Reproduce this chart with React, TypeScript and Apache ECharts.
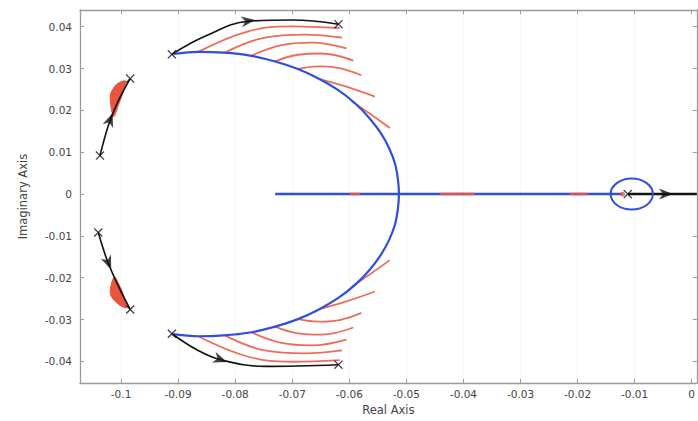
import React, { useEffect, useRef } from "react";
import * as echarts from "echarts";

// ---- axis ticks ----
const xTicks = [-0.1, -0.09, -0.08, -0.07, -0.06, -0.05, -0.04, -0.03, -0.02, -0.01, 0];
const yTicks = [-0.04, -0.03, -0.02, -0.01, 0, 0.01, 0.02, 0.03, 0.04];
const X_MIN = -0.1072;
const X_MAX = 0.0009;
const Y_MIN = -0.0452;
const Y_MAX = 0.044;

// ---- blue locus (large arc, top pole -> real axis -> bottom pole) ----
const blueArc = [
  [-0.0908, 0.0335], [-0.0865, 0.034], [-0.082, 0.0338], [-0.0774, 0.0331], [-0.073, 0.0317],
  [-0.069, 0.0299], [-0.0655, 0.0277], [-0.062, 0.0249], [-0.059, 0.0217], [-0.0565, 0.0182],
  [-0.0545, 0.0146], [-0.053, 0.0109], [-0.052, 0.0073], [-0.0515, 0.0037], [-0.0513, 0],
  [-0.0515, -0.0037], [-0.052, -0.0073], [-0.053, -0.0109], [-0.0545, -0.0146], [-0.0565, -0.0182],
  [-0.059, -0.0217], [-0.062, -0.0249], [-0.0655, -0.0277], [-0.069, -0.0299], [-0.073, -0.0317],
  [-0.0774, -0.0331], [-0.082, -0.0338], [-0.0865, -0.034], [-0.0908, -0.0335],
];
const blueReal = [[-0.073, 0], [-0.0122, 0]];
const blueSmallCircle = [[-0.0105, 0, 0.0037]]; // centre x, centre y, radius

// ---- red loci ----
const redUpper = [
  [[-0.0865, 0.034], [-0.0777, 0.0389], [-0.0701, 0.0401], [-0.0617, 0.0397]],
  [[-0.0818, 0.0338], [-0.0748, 0.0374], [-0.0678, 0.0381], [-0.0613, 0.0374]],
  [[-0.0771, 0.0331], [-0.0719, 0.0356], [-0.0666, 0.0362], [-0.0605, 0.0348]],
  [[-0.073, 0.0317], [-0.069, 0.0333], [-0.0649, 0.0336], [-0.0593, 0.0319]],
  [[-0.069, 0.0299], [-0.0654, 0.0305], [-0.0625, 0.0303], [-0.0579, 0.0284]],
  [[-0.0652, 0.0275], [-0.0608, 0.0258], [-0.0555, 0.0233]],
  [[-0.0596, 0.0222], [-0.0567, 0.0195], [-0.0529, 0.0158]],
];
const redLower = [
  [[-0.0865, -0.034], [-0.0777, -0.0389], [-0.0701, -0.0401], [-0.0617, -0.0397]],
  [[-0.0818, -0.0338], [-0.0748, -0.0374], [-0.0678, -0.0381], [-0.0613, -0.0374]],
  [[-0.0771, -0.0331], [-0.0719, -0.0356], [-0.0666, -0.0362], [-0.0605, -0.0348]],
  [[-0.073, -0.0317], [-0.069, -0.0333], [-0.0649, -0.0336], [-0.0593, -0.0319]],
  [[-0.069, -0.0299], [-0.0654, -0.0305], [-0.0625, -0.0303], [-0.0579, -0.0284]],
  [[-0.0652, -0.0275], [-0.0608, -0.0258], [-0.0555, -0.0233]],
  [[-0.0596, -0.0222], [-0.0567, -0.0195], [-0.0529, -0.0158]],
];
const redRealSegments = [
  [[-0.0599, 0], [-0.0581, 0]],
  [[-0.0441, 0], [-0.038, 0]],
  [[-0.0214, 0], [-0.0182, 0]],
];
const redWedgeUpper = [[-0.1013, 0.0185], [-0.1019, 0.0235], [-0.1008, 0.0262], [-0.0992, 0.027], [-0.0996, 0.0245], [-0.1004, 0.0215]];
const redWedgeLower = [[-0.1012, -0.0198], [-0.1019, -0.0238], [-0.1006, -0.0262], [-0.099, -0.0272], [-0.0995, -0.0245], [-0.1003, -0.0218]];
const redDot = [[-0.0121, 0]];

// ---- black loci ----
const blackUpper = [[-0.0911, 0.0334], [-0.0853, 0.0377], [-0.0777, 0.0413], [-0.07, 0.0416], [-0.0619, 0.0406]];
const blackLower = [[-0.0911, -0.0334], [-0.0865, -0.0374], [-0.0824, -0.0397], [-0.0748, -0.0412], [-0.0619, -0.0408]];
const blackLeftUpper = [[-0.1037, 0.0092], [-0.1022, 0.0165], [-0.1003, 0.0228], [-0.0984, 0.0276]];
const blackLeftLower = [[-0.104, -0.0092], [-0.1024, -0.016], [-0.1003, -0.0225], [-0.0984, -0.0276]];
const blackReal = [[-0.0112, 0], [0.0009, 0]];

const poles = [
  [-0.0911, 0.0334], [-0.0911, -0.0334], [-0.0619, 0.0406], [-0.0619, -0.0408],
  [-0.0984, 0.0276], [-0.0984, -0.0276], [-0.1037, 0.0092], [-0.104, -0.0092], [-0.0112, 0],
];
// x, y, direction (degrees)
const arrows = [
  [-0.0777, 0.0414, 8],
  [-0.0826, -0.0396, -20],
  [-0.1019, 0.0178, 70],
  [-0.1022, -0.0165, -68],
  [-0.0045, 0, 0],
];

const BLUE = "#2f4fdc";
const RED = "#e8553f";
const FONT = "DejaVu Sans, Verdana, sans-serif";
const CROSS = "path://M1,0 L5,4 L9,0 L10,1 L6,5 L10,9 L9,10 L5,6 L1,10 L0,9 L4,5 L0,1 Z";
const ARROW = "path://M0,0 L12,5 L0,10 L3.5,5 Z";

function lineSeries(data: number[][], color: string, width: number, smooth: number | boolean, z: number, opacity = 1) {
  return {
    type: "line",
    data,
    smooth,
    showSymbol: false,
    symbol: "none",
    silent: true,
    z,
    lineStyle: { color, width, opacity },
  };
}

function polygonSeries(points: number[][], color: string, z: number) {
  return {
    type: "custom",
    z,
    silent: true,
    data: [[points[0][0], points[0][1]]],
    encode: { x: 0, y: 1 },
    renderItem: (params: any, api: any) => ({
      type: "polygon",
      shape: { points: points.map((p) => api.coord(p)), smooth: 0.3 },
      style: { fill: color, stroke: color, lineWidth: 1 },
    }),
  };
}

export default function App() {
  const ref = useRef<HTMLDivElement>(null);
  useEffect(() => {
    if (!ref.current) return;
    const chart = echarts.init(ref.current, undefined, { renderer: "svg" });
    const axisColor = "#9a9a9a";
    const fmt = (v: number) => String(v);
    const series: any[] = [];

    series.push(lineSeries(blueArc, BLUE, 2.2, 0.35, 5));
    series.push(lineSeries(blueReal, BLUE, 2.4, false, 5));
    redUpper.forEach((a) => series.push(lineSeries(a, RED, 1.8, 0.4, 4, 0.85)));
    redLower.forEach((a) => series.push(lineSeries(a, RED, 1.8, 0.4, 4, 0.85)));
    redRealSegments.forEach((a) => series.push(lineSeries(a, RED, 2.6, false, 6, 0.9)));
    series.push(polygonSeries(redWedgeUpper, RED, 6));
    series.push(polygonSeries(redWedgeLower, RED, 6));
    series.push(lineSeries(blackUpper, "#111", 1.6, 0.4, 7));
    series.push(lineSeries(blackLower, "#111", 1.6, 0.4, 7));
    series.push(lineSeries(blackLeftUpper, "#111", 1.6, 0.3, 7));
    series.push(lineSeries(blackLeftLower, "#111", 1.6, 0.3, 7));
    series.push(lineSeries(blackReal, "#111", 2.6, false, 7));
    series.push({
      type: "custom",
      z: 8,
      silent: true,
      data: blueSmallCircle,
      encode: { x: 0, y: 1 },
      renderItem: (params: any, api: any) => {
        const c = api.coord([api.value(0), api.value(1)]);
        const s = api.size([api.value(2), api.value(2)]);
        return {
          type: "ellipse",
          shape: { cx: c[0], cy: c[1], rx: s[0], ry: s[1] },
          style: { fill: "none", stroke: BLUE, lineWidth: 2 },
        };
      },
    });
    series.push({
      type: "scatter",
      data: redDot,
      symbol: "circle",
      symbolSize: 5,
      z: 9,
      silent: true,
      itemStyle: { color: RED },
    });
    series.push({
      type: "scatter",
      data: poles,
      symbol: CROSS,
      symbolSize: 9,
      z: 10,
      silent: true,
      itemStyle: { color: "#111" },
    });
    series.push({
      type: "scatter",
      data: arrows.map((a) => ({ value: [a[0], a[1]], symbolRotate: a[2] })),
      symbol: ARROW,
      symbolSize: [14, 11],
      z: 10,
      silent: true,
      itemStyle: { color: "#111" },
    });

    const baseX = {
      type: "value",
      min: X_MIN,
      max: X_MAX,
      axisLine: { show: true, onZero: false, lineStyle: { color: axisColor, width: 1.3 } },
      axisTick: { show: true, inside: true, length: 4, customValues: xTicks, lineStyle: { color: axisColor } },
    };
    const baseY = {
      type: "value",
      min: Y_MIN,
      max: Y_MAX,
      axisLine: { show: true, onZero: false, lineStyle: { color: axisColor, width: 1.3 } },
      axisTick: { show: true, inside: true, length: 4, customValues: yTicks, lineStyle: { color: axisColor } },
    };
    const labelColor = "#444";

    chart.setOption({
      animation: false,
      backgroundColor: "#ffffff",
      grid: { left: 80, right: 1, top: 10, bottom: 31 },
      xAxis: [
        {
          ...baseX,
          position: "bottom",
          name: "Real Axis",
          nameLocation: "middle",
          nameGap: 16,
          nameTextStyle: { fontSize: 11.5, color: labelColor, fontFamily: FONT },
          axisLabel: { customValues: xTicks, formatter: fmt, fontSize: 10.5, color: labelColor, margin: 5, fontFamily: FONT },
          splitLine: { show: true, lineStyle: { color: "#ececec", width: 1, type: "dotted" } },
        },
        { ...baseX, position: "top", axisLabel: { show: false }, splitLine: { show: false } },
      ],
      yAxis: [
        {
          ...baseY,
          position: "left",
          name: "Imaginary Axis",
          nameLocation: "middle",
          nameGap: 51,
          nameTextStyle: { fontSize: 11.5, color: labelColor, fontFamily: FONT },
          axisLabel: { customValues: yTicks, formatter: fmt, fontSize: 10.5, color: labelColor, margin: 8, fontFamily: FONT },
          splitLine: { show: false },
        },
        { ...baseY, position: "right", axisLabel: { show: false }, splitLine: { show: false } },
      ],
      series,
    });
    return () => chart.dispose();
  }, []);
  return (
    <div
      ref={ref}
      style={{ position: "fixed", left: 0, top: 0, width: 698, height: 421, background: "#fff" }}
    />
  );
}
